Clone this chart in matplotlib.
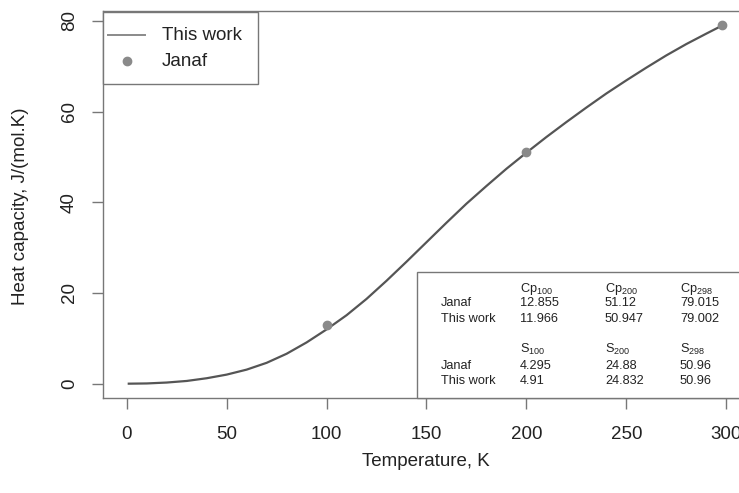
import matplotlib
matplotlib.use("Agg")
import matplotlib.pyplot as plt
from matplotlib.patches import Rectangle
from matplotlib.lines import Line2D

plt.rcParams['font.family'] = ['Liberation Sans', 'DejaVu Sans']
plt.rcParams['mathtext.fontset'] = 'custom'
plt.rcParams['mathtext.rm'] = 'Liberation Sans'
plt.rcParams['mathtext.it'] = 'Liberation Sans'

# Model curve ("This work")
temp = [1, 10, 20, 30, 40, 50, 60, 70, 80, 90, 100, 110, 120, 130, 140, 150,
        160, 170, 180, 190, 200, 210, 220, 230, 240, 250, 260, 270, 280, 290, 298]
cp_model = [0.0, 0.05, 0.25, 0.6, 1.2, 2.0, 3.1, 4.6, 6.6, 9.1, 11.97, 15.1, 18.7,
            22.7, 26.9, 31.2, 35.5, 39.7, 43.6, 47.4, 50.95, 54.4, 57.7, 60.9,
            64.0, 66.9, 69.7, 72.4, 74.9, 77.2, 79.0]

# Janaf reference points
t_janaf = [100, 200, 298]
cp_janaf = [12.855, 51.12, 79.015]

# Table values
table_rows = ["Janaf", "This work"]
cp_headers = ["Cp$_{100}$", "Cp$_{200}$", "Cp$_{298}$"]
cp_vals = [["12.855", "51.12", "79.015"], ["11.966", "50.947", "79.002"]]
s_headers = ["S$_{100}$", "S$_{200}$", "S$_{298}$"]
s_vals = [["4.295", "24.88", "50.96"], ["4.91", "24.832", "50.96"]]

W, H = 739, 493
fig = plt.figure(figsize=(W / 100, H / 100), dpi=100)

def fx(px):
    return px / W

def fy(py):
    return 1 - py / H

left, right, top, bottom = 103, 746, 11, 398
ax = fig.add_axes([fx(left), fy(bottom), fx(right) - fx(left), fy(top) - fy(bottom)])

line_col = '#555555'
pt_col = '#8a8a8a'
frame_col = '#777777'
text_col = '#222222'
big = 13.5

ax.plot(temp, cp_model, color=line_col, lw=1.6, zorder=3)
ax.plot(t_janaf, cp_janaf, 'o', color=pt_col, ms=6, mec=pt_col, zorder=4)

ax.set_xlim(-11.9, 309.9)
ax.set_ylim(-3.16, 82.2)
ax.set_xticks([0, 50, 100, 150, 200, 250, 300])
ax.set_yticks([0, 20, 40, 60, 80])
for s in ax.spines.values():
    s.set_color(frame_col)
    s.set_linewidth(1.0)
ax.tick_params(axis='both', direction='out', length=8, width=1.0, color=frame_col,
               labelsize=big, labelcolor=text_col)
ax.tick_params(axis='x', pad=12.5)
ax.tick_params(axis='y', pad=10)
for lab in ax.get_yticklabels():
    lab.set_rotation(90)
    lab.set_va('center')

fig.text(fx(426), fy(462), "Temperature, K", ha='center', va='center', fontsize=big, color=text_col)
fig.text(fx(21), fy(206), "Heat capacity, J/(mol.K)", ha='center', va='center',
         rotation=90, fontsize=big, color=text_col)

# Legend box
fig.patches.append(Rectangle((fx(103), fy(84)), fx(258) - fx(103), fy(12) - fy(84),
                             transform=fig.transFigure, facecolor='white',
                             edgecolor=frame_col, lw=1.0, zorder=5))
fig.lines.append(Line2D([fx(108), fx(145)], [fy(35), fy(35)], transform=fig.transFigure,
                        color=pt_col, lw=1.4, zorder=6))
fig.lines.append(Line2D([fx(127)], [fy(61)], transform=fig.transFigure, marker='o',
                        color=pt_col, ms=6, ls='none', zorder=6))
fig.text(fx(162), fy(36), "This work", ha='left', va='center', fontsize=big, color=text_col, zorder=7)
fig.text(fx(162), fy(61), "Janaf", ha='left', va='center', fontsize=big, color=text_col, zorder=7)

# Table box
fig.patches.append(Rectangle((fx(417), fy(398)), fx(760) - fx(417), fy(272) - fy(398),
                             transform=fig.transFigure, facecolor='white',
                             edgecolor=frame_col, lw=1.0, zorder=5))
col_x = [520, 605, 680]
row_x = 441
fs = 9.2
def block(headers, vals, y_head, y_rows):
    for cx, h in zip(col_x, headers):
        fig.text(fx(cx), fy(y_head), h, ha='left', va='center', fontsize=fs, color=text_col, zorder=7)
    for yr, name, rowv in zip(y_rows, table_rows, vals):
        fig.text(fx(row_x), fy(yr), name, ha='left', va='center', fontsize=fs, color=text_col, zorder=7)
        for cx, v in zip(col_x, rowv):
            fig.text(fx(cx), fy(yr), v, ha='left', va='center', fontsize=fs, color=text_col, zorder=7)

block(cp_headers, cp_vals, 289, [303, 319])
block(s_headers, s_vals, 349, [366, 381])

fig.savefig("out.png", dpi=100)
